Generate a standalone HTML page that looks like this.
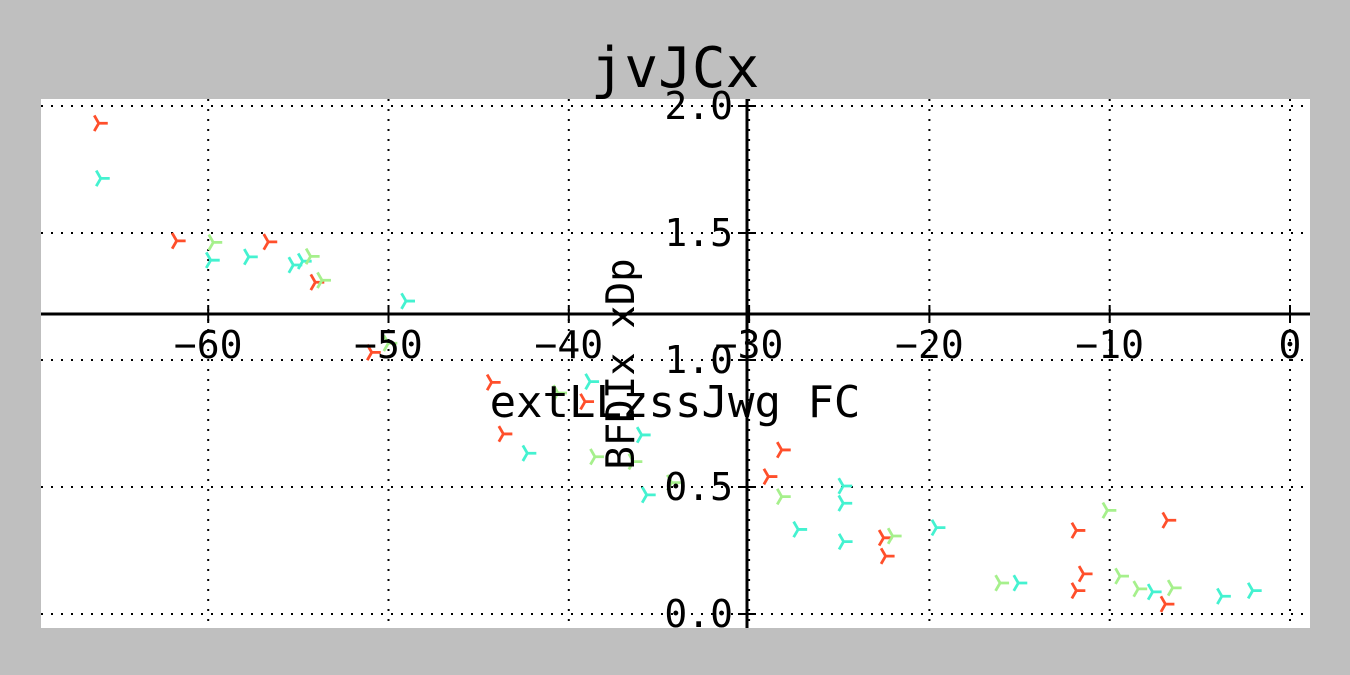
<!DOCTYPE html>
<html><head><meta charset="utf-8"><style>
body{margin:0;background:#bfbfbf;}
svg{display:block;}
text{font-family:"DejaVu Sans Mono","Liberation Mono",monospace;fill:#000;}
</style></head><body>
<svg id="chart" width="1350" height="675" xmlns="http://www.w3.org/2000/svg">
<rect x="0" y="0" width="1350" height="675" fill="#bfbfbf"/>
<rect x="41" y="99" width="1269" height="529" fill="#ffffff"/>
<g id="grid"></g>
<g id="marks"></g>
<g id="axes"></g>
<text x="675" y="87" font-size="56" text-anchor="middle">jvJCx</text>
<text x="675" y="417" font-size="44" text-anchor="middle">extLLzssJwg FC</text>
<text x="0" y="0" font-size="39" text-anchor="middle" transform="translate(634,364) rotate(-90)">BFDIx xDp</text>
</svg>
<script>
const xTicks=[-60,-50,-40,-30,-20,-10,0];
const yTicks=[0.0,0.5,1.0,1.5,2.0];
const yTickLabels=["0.0","0.5","1.0","1.5","2.0"];
const redX=[-66.07,-61.75,-56.67,-54.06,-50.93,-44.28,-39.10,-43.63,-28.19,-28.93,-22.54,-22.43,-11.85,-11.45,-11.85,-6.81,-6.91];
const redY=[1.932,1.469,1.465,1.306,1.030,0.912,0.836,0.709,0.646,0.541,0.300,0.228,0.329,0.158,0.092,0.369,0.039];
const cyanX=[-65.96,-59.86,-57.75,-55.28,-54.76,-49.03,-38.82,-42.30,-35.96,-35.68,-24.78,-24.78,-27.28,-24.76,-19.61,-15.07,-7.62,-3.78,-2.07];
const cyanY=[1.715,1.393,1.406,1.374,1.389,1.232,0.915,0.633,0.705,0.469,0.504,0.436,0.333,0.285,0.340,0.122,0.087,0.070,0.092];
const greenX=[-59.72,-54.32,-53.69,-50.01,-40.60,-38.55,-36.42,-34.29,-28.19,-22.04,-16.08,-10.13,-9.43,-8.42,-6.51];
const greenY=[1.463,1.408,1.314,1.066,0.870,0.619,0.600,0.517,0.462,0.307,0.122,0.408,0.149,0.099,0.103];

const NS="http://www.w3.org/2000/svg";
const PL=41,PR=1310,PT=99,PB=628;
const X0=1290,XS=18.03,Y0=614,YS=254;
function sx(v){return X0+v*XS;}
function sy(v){return Y0-v*YS;}
function mk(tag,attrs,parent){const e=document.createElementNS(NS,tag);for(const k in attrs)e.setAttribute(k,attrs[k]);parent.appendChild(e);return e;}
const grid=document.getElementById('grid'),marks=document.getElementById('marks'),axes=document.getElementById('axes');
xTicks.forEach(t=>{
  const g=mk('line',{x1:sx(t),x2:sx(t),y1:PT,y2:PB,stroke:'#000','stroke-width':2,'stroke-dasharray':'2,8'},grid);
  
  
});
yTicks.forEach(t=>{
  const g=mk('line',{x1:PL,x2:PR,y1:sy(t),y2:sy(t),stroke:'#000','stroke-width':2,'stroke-dasharray':'2,8'},grid);
  
  
});
function drawSeries(xs,ys,color,name){
  const r=9;
  xs.forEach((x,i)=>{
    const cx=sx(x),cy=sy(ys[i]);
    const p=mk('path',{d:`M${cx},${cy}L${cx+r},${cy}M${cx},${cy}L${cx-r/2},${cy-r*0.866}M${cx},${cy}L${cx-r/2},${cy+r*0.866}`,stroke:color,'stroke-width':2.8,fill:'none'},marks);
    
    
  });
}
drawSeries(redX,redY,'#ff4f2b','red-series');
drawSeries(cyanX,cyanY,'#44f2d0','cyan-series');
drawSeries(greenX,greenY,'#a6f08c','green-series');
const axY=314, axX=747;
let s=mk('line',{x1:PL,x2:PR,y1:axY,y2:axY,stroke:'#000','stroke-width':3},axes);


s=mk('line',{x1:axX,x2:axX,y1:PT,y2:PB,stroke:'#000','stroke-width':3},axes);


xTicks.forEach(t=>{
  const tk=mk('line',{x1:sx(t),x2:sx(t),y1:axY-9,y2:axY+9,stroke:'#000','stroke-width':2},axes);
  
  
  const tx=mk('text',{x:sx(t),y:axY+44,'font-size':38,'text-anchor':'middle'},axes);
  tx.textContent=(t<0?'\u2212'+(-t):String(t));
  
  
});
yTicks.forEach((t,i)=>{
  const tk=mk('line',{x1:axX-9,x2:axX+9,y1:sy(t),y2:sy(t),stroke:'#000','stroke-width':2},axes);
  
  
  const tx=mk('text',{x:axX-14,y:sy(t)+13,'font-size':38,'text-anchor':'end'},axes);
  tx.textContent=yTickLabels[i];
  
  
});
</script>
</body></html>
